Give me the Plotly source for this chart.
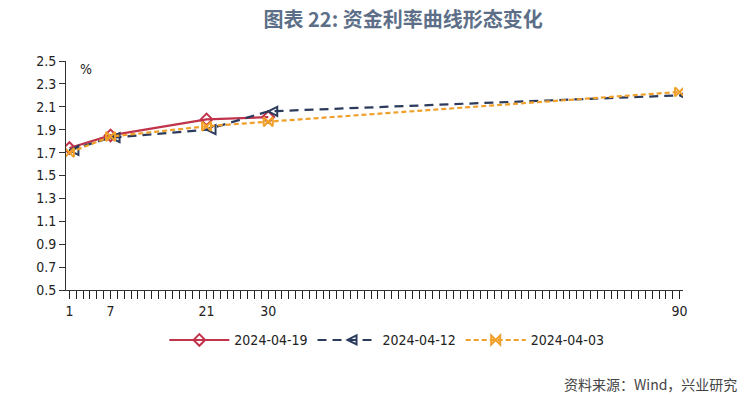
import plotly.graph_objects as go

tenors = [1, 7, 21, 30, 90]
days = list(range(1, 91))
s_0419 = [1.74, 1.85, 1.99, 2.01]
s_0412 = [1.72, 1.83, 1.90, 2.06, 2.20]
s_0403 = [1.70, 1.84, 1.93, 1.97, 2.23]
names = ["2024-04-19", "2024-04-12", "2024-04-03"]
y_ticks = [0.5, 0.7, 0.9, 1.1, 1.3, 1.5, 1.7, 1.9, 2.1, 2.3, 2.5]
x_ticktext = [str(d) if d in tenors else "" for d in days]

fig = go.Figure()
fig.add_trace(go.Scatter(x=tenors[:4], y=s_0419, name=names[0], mode="lines+markers",
                         line=dict(color="#c0334a", width=2.2),
                         marker=dict(symbol="diamond-open", size=9, color="#c0334a", line=dict(width=2))))
fig.add_trace(go.Scatter(x=tenors, y=s_0412, name=names[1], mode="lines+markers",
                         line=dict(color="#2c3b5c", width=2.2, dash="9px,6px"),
                         marker=dict(symbol="arrow-left-open", size=9, color="#2c3b5c", line=dict(width=2))))
fig.add_trace(go.Scatter(x=tenors, y=s_0403, name=names[2], mode="lines+markers",
                         line=dict(color="#f0a02a", width=2.2, dash="5px,3px"),
                         marker=dict(symbol="bowtie-open", size=9, color="#f0a02a", line=dict(width=2))))

fig.update_layout(
    width=741, height=404,
    margin=dict(l=66, r=58, t=61, b=114),
    paper_bgcolor="white", plot_bgcolor="white",
    font=dict(family="DejaVu Sans Condensed, Liberation Sans, sans-serif", size=14, color="#222"),
    title=dict(text="<b>图表 22: 资金利率曲线形态变化</b>", x=0.544, xref="container", xanchor="center",
               y=0.95, yanchor="middle",
               font=dict(family="Noto Sans CJK SC", size=20, color="#5d6f88")),
    legend=dict(orientation="h", x=0.52, xanchor="center", y=-0.22, yanchor="middle",
                font=dict(size=14), itemwidth=60),
    showlegend=True,
    xaxis=dict(range=[0.5, 90.5], tickmode="array", tickvals=days, ticktext=x_ticktext,
               showline=True, linecolor="#333", linewidth=1, ticks="outside", ticklen=8,
               tickwidth=1.3, tickcolor="#222", showgrid=False, zeroline=False),
    yaxis=dict(range=[0.5, 2.5], tickmode="array", tickvals=y_ticks,
               ticktext=[f"{v:.1f}" for v in y_ticks],
               showline=True, linecolor="#333", linewidth=1, ticks="outside", ticklen=6,
               tickcolor="#333", showgrid=False, zeroline=False),
)

fig.add_annotation(text="%", x=0.02, y=1.01, xref="paper", yref="paper", xanchor="left",
                   yanchor="top", showarrow=False, font=dict(size=14))
fig.add_annotation(text="资料来源：Wind，兴业研究", x=1.09, y=-0.41, xref="paper", yref="paper",
                   xanchor="right", yanchor="middle", showarrow=False,
                   font=dict(family="Noto Sans CJK SC", size=14, color="#444"))

fig.write_html("out.html")
